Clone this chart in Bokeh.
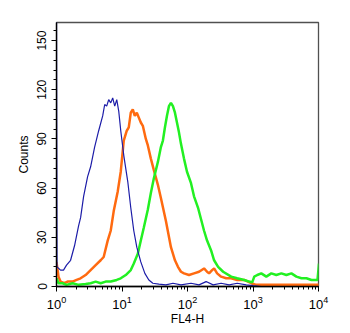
from bokeh.plotting import figure
from bokeh.models import Range1d, SingleIntervalTicker, LogTicker
from bokeh.embed import file_html
from bokeh.resources import INLINE

# FL4-H positions stored as log10 exponents, counts
blue_log10 = [0.0, 0.008, 0.061, 0.107, 0.153, 0.215, 0.276, 0.337, 0.368, 0.414, 0.475, 0.521,
              0.582, 0.644, 0.705, 0.736, 0.766, 0.797, 0.828, 0.858, 0.889, 0.92, 0.95, 0.981,
              1.027, 1.088, 1.134, 1.18, 1.226, 1.287, 1.349, 1.41, 1.471, 1.563, 1.67, 1.778,
              1.9, 2.054, 2.176, 2.284, 2.391, 2.513, 2.636, 2.759, 2.897, 3.004, 3.126, 4.0]
blue_counts = [170, 12, 10, 10, 13, 16, 25, 37, 42, 55, 67, 73,
               85, 95, 104, 111, 110, 114, 112, 115, 110, 114, 107, 95,
               80, 64, 48, 34, 24, 15, 8, 4, 2, 1.5, 1, 2,
               1, 2, 1, 3, 1, 2, 1, 2, 1, 0.5, 0, 0]

orange_px = [56, 58, 60, 64, 67, 72, 76, 80, 85, 90, 95, 100, 103, 107, 110, 113, 117, 120, 123,
             126, 128, 130, 132, 134, 136, 138, 140, 142, 145, 147, 150, 153, 157, 160, 165, 170,
             174, 177, 180, 183, 188, 193, 198, 203, 206, 208, 211, 213, 216, 220, 225, 230, 236,
             243, 250, 255, 318]
orange_counts = [15, 6, 3, 2, 3, 3, 4, 5, 7, 10, 13, 16, 18, 28, 34, 46, 58, 70, 89,
                 95, 97, 106, 108, 104, 106, 103, 100, 98, 90, 86, 78, 71, 62, 54, 40, 24,
                 16, 12, 9, 8, 7, 8, 9, 11, 9, 8, 10, 11, 8, 6, 5, 5, 4,
                 4, 2, 1, 1]

green_px = [56, 58, 62, 66, 72, 78, 85, 90, 95, 100, 105, 110, 116, 120, 125, 130, 133, 137, 140,
            143, 147, 150, 153, 157, 160, 162, 164, 166, 168, 170, 172, 174, 176, 178, 180, 183,
            186, 190, 193, 197, 200, 203, 206, 210, 213, 217, 222, 230, 236, 243, 248, 251, 253,
            256, 260, 265, 270, 275, 280, 285, 290, 295, 300, 305, 310, 316, 317.5]
green_counts = [5, 2, 2, 1, 2, 1, 1.5, 2, 3, 2, 3, 3, 4, 5, 7, 10, 14, 20, 28,
                36, 47, 57, 66, 76, 85, 89, 97, 104, 110, 112, 110, 106, 100, 94, 87, 78,
                70, 63, 55, 48, 41, 34, 28, 22, 16, 12, 9, 6, 5, 4, 3, 2.5, 6,
                7, 8, 6, 8, 7, 8, 7, 8, 6, 5, 5, 4, 4, 14]

# picture-reading scale: 10^0 at px 56, 65.25 px per decade
orange_log10 = [(x - 56) / 65.25 for x in orange_px]
green_log10 = [(x - 56) / 65.25 for x in green_px]

p = figure(width=350, height=333, frame_width=262, frame_height=264,
           x_axis_type="log", output_backend="svg",
           toolbar_location=None, x_range=Range1d(1, 10000), y_range=Range1d(0, 161),
           min_border_left=56, min_border_right=32, min_border_top=22, min_border_bottom=47)
p.background_fill_color = "white"
p.border_fill_color = "white"
p.outline_line_color = "#505050"
p.outline_line_width = 1.3
p.grid.visible = False

p.line([10 ** v for v in orange_log10], orange_counts, line_color="#ff6a10", line_width=2.5)
p.line([10 ** v for v in green_log10], green_counts, line_color="#22f022", line_width=2.5)
p.line([10 ** v for v in blue_log10], blue_counts, line_color="#1c1ca8", line_width=1.2)

font = "Liberation Sans"
p.yaxis.ticker = SingleIntervalTicker(interval=30, num_minor_ticks=5)
p.yaxis.major_label_orientation = "vertical"
p.xaxis.ticker = LogTicker(num_minor_ticks=10)
for ax in (p.xaxis[0], p.yaxis[0]):
    ax.axis_line_color = "black"
    ax.axis_line_width = 1.3
    ax.major_tick_line_color = "black"
    ax.minor_tick_line_color = "black"
    ax.major_tick_out = 5
    ax.major_tick_in = 0
    ax.minor_tick_out = 3
    ax.minor_tick_in = 0
    ax.major_label_text_font = font
    ax.major_label_text_color = "black"
    ax.axis_label_text_font = font
    ax.axis_label_text_font_size = "12px"
    ax.axis_label_text_font_style = "normal"
    ax.axis_label_text_color = "black"
p.xaxis.major_label_text_font_size = "13px"
p.yaxis.major_label_text_font_size = "12px"
p.xaxis.major_label_standoff = 4
p.yaxis.major_label_standoff = 5
p.xaxis.axis_label = "FL4-H"
p.yaxis.axis_label = "Counts"
p.xaxis.axis_label_standoff = 0
p.yaxis.axis_label_standoff = 4

open("out.html", "w").write(file_html(p, INLINE))
